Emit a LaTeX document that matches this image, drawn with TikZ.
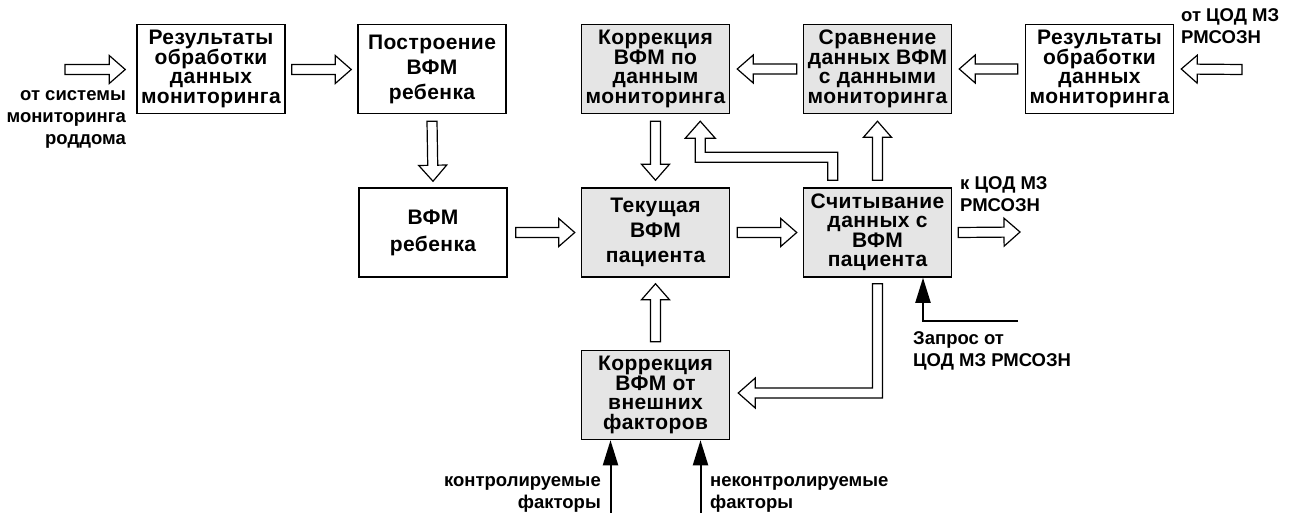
\documentclass[tikz,border=0pt]{standalone}
\usepackage{fontspec}
\setmainfont{Liberation Sans}
\newfontfamily\boxfont{Liberation Sans}[LetterSpace=2]
\usetikzlibrary{calc,arrows.meta}
\newcommand\nolsk{\lineskiplimit-30pt\relax}
\begin{document}
\begin{tikzpicture}[x=1pt,y=-1pt,
  box/.style={draw, line width=1.5pt, minimum width=148pt, minimum height=89pt, inner sep=0pt, align=center},
  fourl/.style={font={\boxfont\bfseries\fontsize{21}{19.5}\selectfont\nolsk}},
  threel/.style={font={\boxfont\bfseries\fontsize{21}{25}\selectfont\nolsk}},
  twol/.style={font={\boxfont\bfseries\fontsize{21}{27}\selectfont\nolsk}},
  gray/.style={fill=black!10},
  lbl/.style={inner sep=0pt, font={\bfseries\fontsize{18.5}{22}\selectfont\nolsk}},
  hollow/.style={draw, line width=1.2pt, fill=white, line join=miter,
    to path={let \p1=($(\tikztotarget)!16pt!(\tikztostart)$) in
      ($(\tikztostart)!5pt!90:(\tikztotarget)$) -- ($(\p1)!5pt!90:(\tikztotarget)$)
      -- ($(\p1)!14pt!90:(\tikztotarget)$) -- (\tikztotarget)
      -- ($(\p1)!14pt!-90:(\tikztotarget)$) -- ($(\p1)!5pt!-90:(\tikztotarget)$)
      -- ($(\tikztostart)!5pt!-90:(\tikztotarget)$) -- cycle}},
  hpoly/.style={draw, line width=1.2pt, fill=white, line join=miter},
  blk/.style={line width=2pt, -{Triangle[length=25pt,width=15pt]}}
]
\useasboundingbox (0,0) rectangle (1291,513);

% boxes
\node[box,fourl] (A) at (211,69) {Результаты\\обработки\\данных\\мониторинга};
\node[box,threel] (B) at (432,69) {Построение\\ВФМ\\ребенка};
\node[box,fourl,gray] (C) at (655.5,69) {Коррекция\\ВФМ по\\данным\\мониторинга};
\node[box,fourl,gray] (D) at (877.5,69) {Сравнение\\данных ВФМ\\с данными\\мониторинга};
\node[box,fourl] (E) at (1099.5,69) {Результаты\\обработки\\данных\\мониторинга};
\node[box,twol] (F) at (433,232.5) {ВФМ\\ребенка};
\node[box,threel,gray] (G) at (655.5,232.5) {Текущая\\ВФМ\\пациента};
\node[box,fourl,gray] (H) at (877.5,232.5) {Считывание\\данных с\\ВФМ\\пациента};
\node[box,fourl,gray] (I) at (655.5,395) {Коррекция\\ВФМ от\\внешних\\факторов};

% free ends
\coordinate (inL) at (65,69.5);
\coordinate (inR) at (1242,69.5);
\coordinate (outR) at (1020,232);
\coordinate (rq) at (1018,321);
\coordinate (kf) at (610.5,513);
\coordinate (nkf) at (700.5,513);

% straight hollow arrows
\draw[hollow] (inL) to ($(A.west)+(-11,0.5)$);
\draw[hollow] ($(A.east)+(6,0.5)$) to ($(B.west)+(-6,0.5)$);
\draw[hollow] ($(D.west)+(-6,0)$) to ($(C.east)+(7,0)$);
\draw[hollow] ($(E.west)+(-7,0)$) to ($(D.east)+(7,0)$);
\draw[hollow] (inR) to ($(E.east)+(7,0)$);
\draw[hollow] ($(B.south)+(0,7)$) to ($(F.north)+(0,-6)$);
\draw[hollow] ($(C.south)+(0,7)$) to ($(G.north)+(0,-7)$);
\draw[hollow] ($(H.north)+(0,-7)$) to ($(D.south)+(0,7)$);
\draw[hollow] ($(F.east)+(8,0)$) to ($(G.west)+(-6,0)$);
\draw[hollow] ($(G.east)+(7,0)$) to ($(H.west)+(-6,0)$);
\draw[hollow] ($(H.east)+(6,0)$) to (outR);
\draw[hollow] ($(I.north)+(0,-8)$) to ($(G.south)+(0,6)$);

% bent hollow arrows
\coordinate (hcS) at ($(H.north west)+(30,-7)$);
\coordinate (hcT) at ($(C.south east)+(-30,7)$);
\draw[hpoly] ($(hcS)+(5,0)$) |- ($(hcT)+(5,31)$) -- ($(hcT)+(5,17)$) -- ($(hcT)+(15,17)$)
  -- (hcT) -- ($(hcT)+(-15,17)$) -- ($(hcT)+(-5,17)$) -- ($(hcT)+(-5,41)$)
  -| ($(hcS)+(-5,0)$) -- cycle;
\coordinate (hiS) at ($(H.south)+(0,6)$);
\coordinate (hiT) at ($(I.east)+(8,-2)$);
\draw[hpoly] ($(hiS)+(5,0)$) |- ($(hiT)+(17,5)$) -- ($(hiT)+(17,15)$) -- (hiT)
  -- ($(hiT)+(17,-15)$) -- ($(hiT)+(17,-5)$) -| ($(hiS)+(-5,0)$) -- cycle;

% black arrows
\draw[blk] (rq) -| ($(H.south)+(45.5,0)$);
\draw[blk] (kf) -- (kf |- I.south);
\draw[blk] (nkf) -- (nkf |- I.south);

% labels
\node[lbl, anchor=north east, align=right] (l1) at (126,90) {от системы\\мониторинга\\роддома};
\node[lbl, anchor=north west, align=left] (l2) at (1181,8) {от ЦОД МЗ\\РМСОЗН};
\node[lbl, anchor=north west, align=left] (l3) at (960,176) {к ЦОД МЗ\\РМСОЗН};
\node[lbl, anchor=north west, align=left] (l4) at (913,331) {Запрос от\\ЦОД МЗ РМСОЗН};
\node[lbl, anchor=north east, align=right] (l5) at (601,476) {контролируемые\\факторы};
\node[lbl, anchor=north west, align=left] (l6) at (710,476) {неконтролируемые\\факторы};
\end{tikzpicture}
\end{document}
